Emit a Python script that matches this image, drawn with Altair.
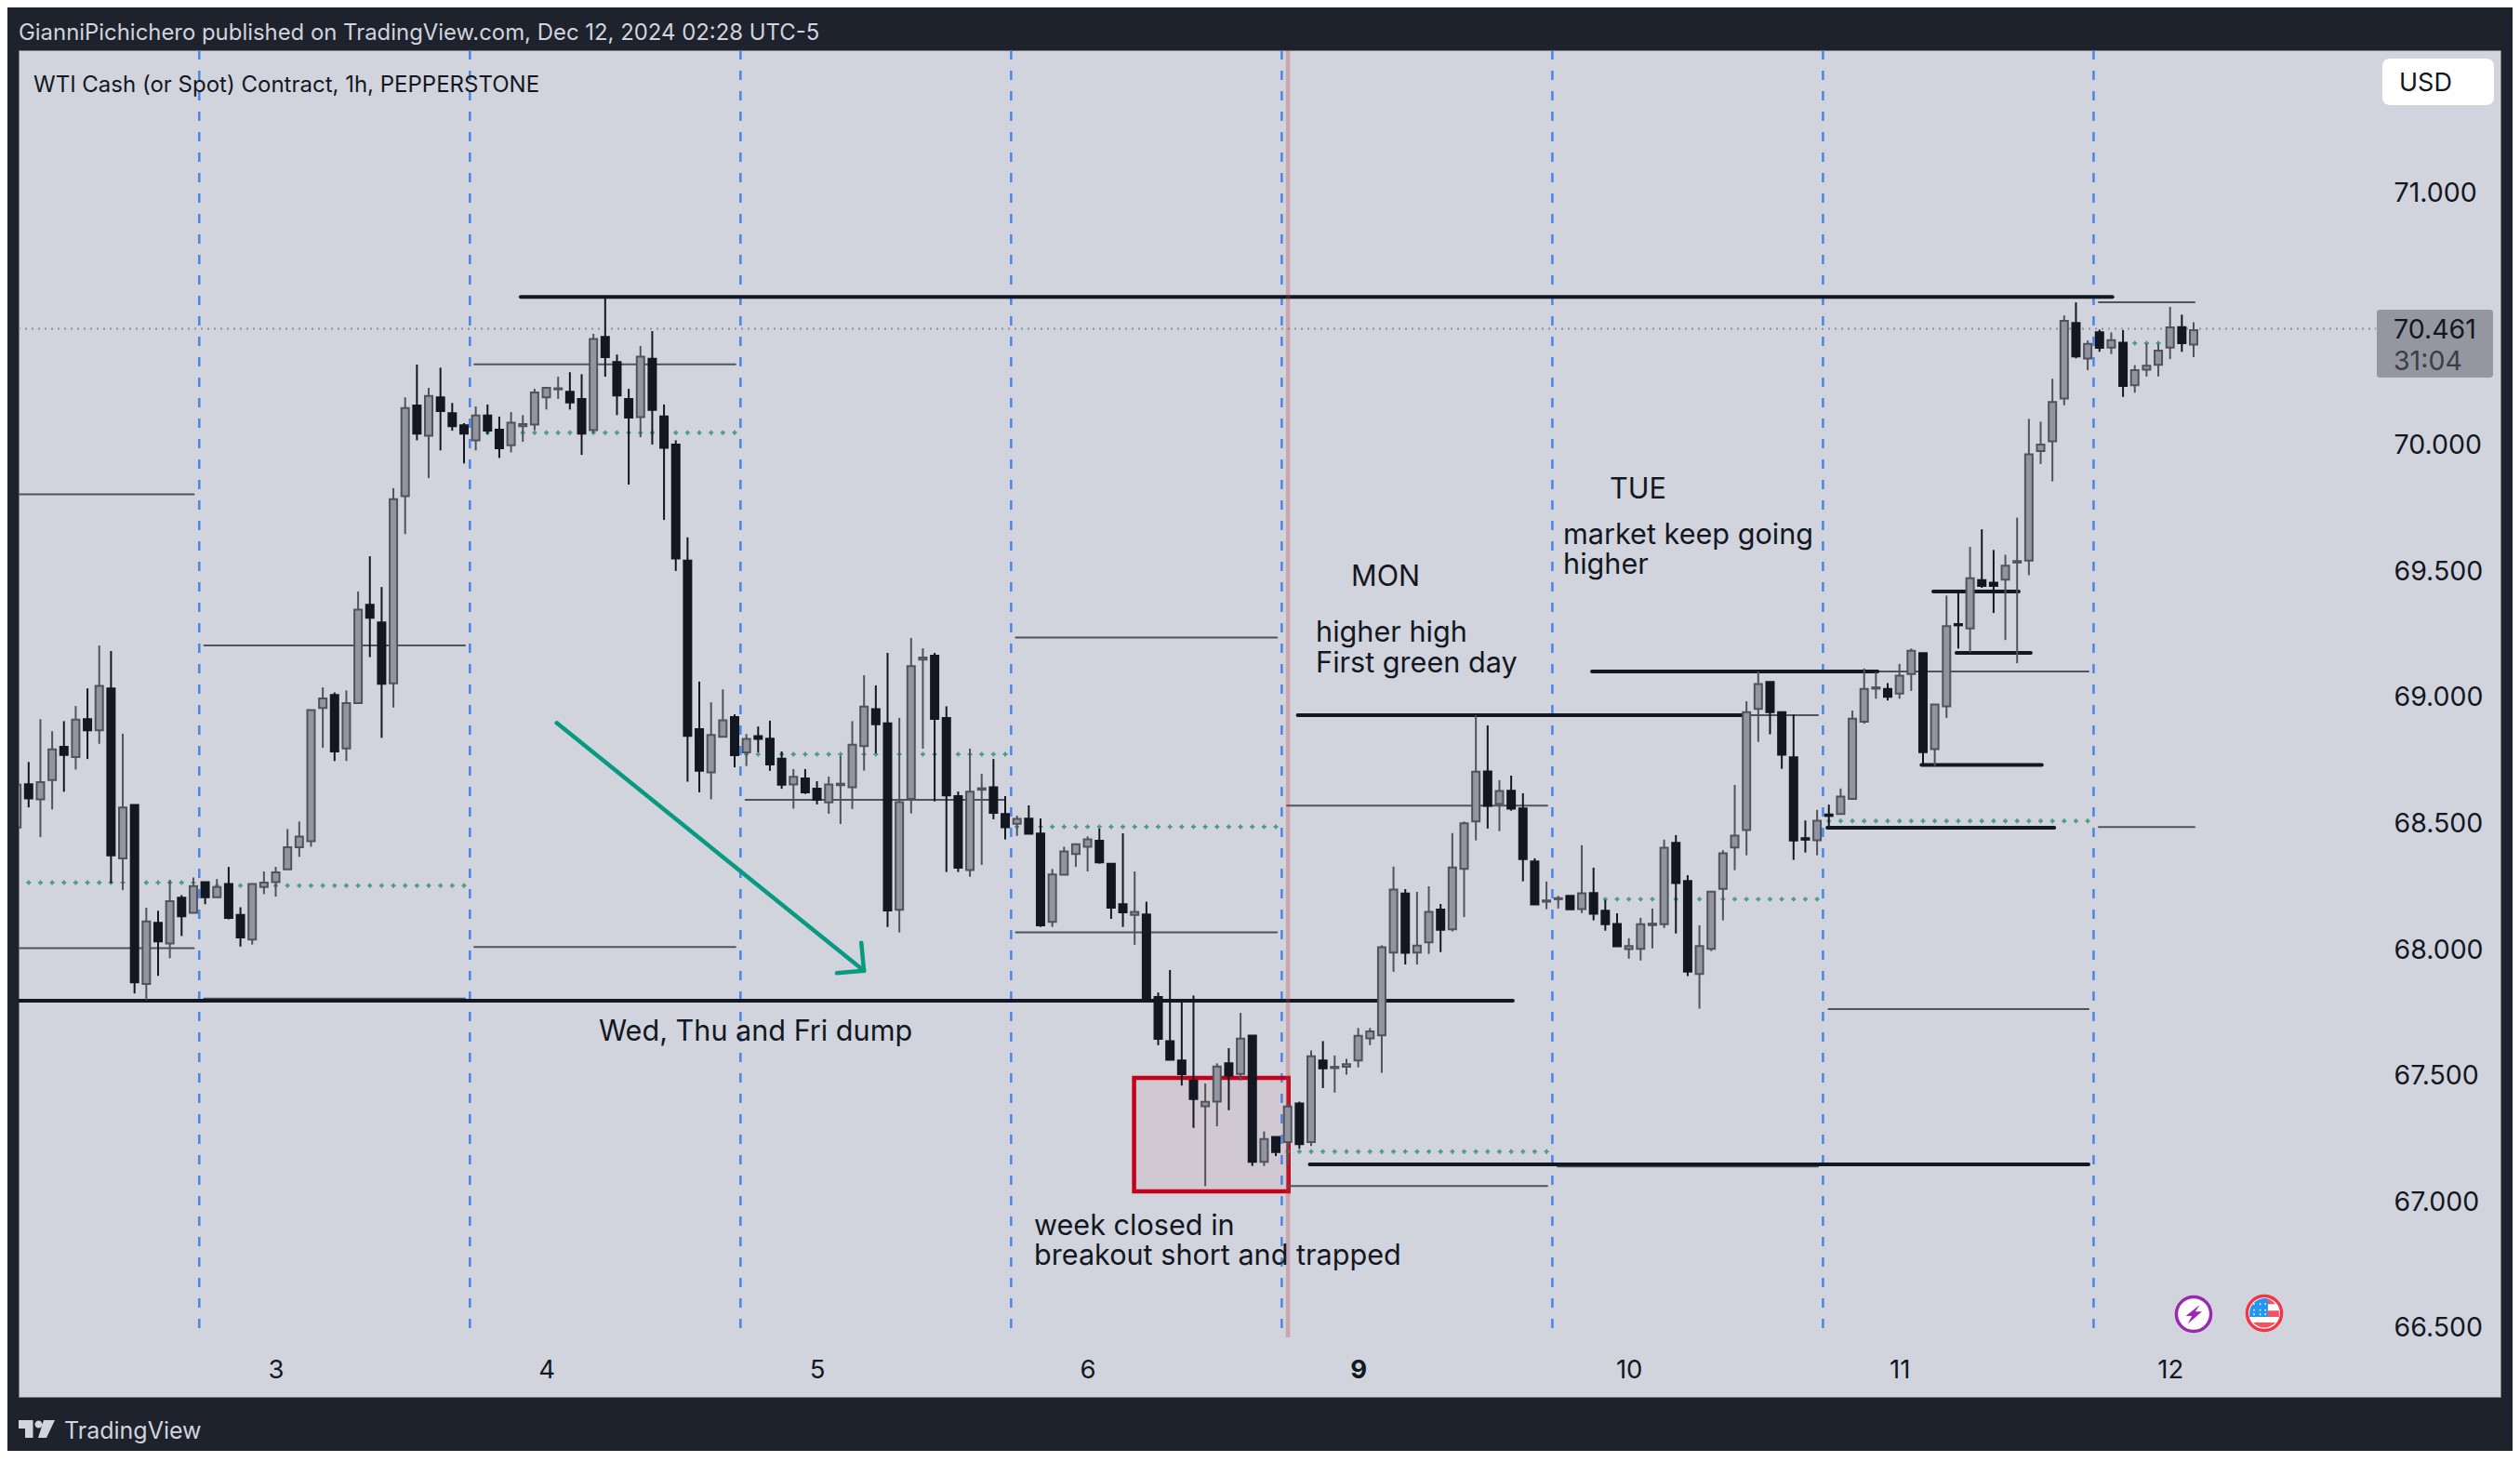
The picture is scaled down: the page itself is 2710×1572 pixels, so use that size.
import altair as alt
import pandas as pd

# candle values, one hour per entry
directions = list(
    "UDUUDUDUDU" "DUDUDUDUDD" "UUUUUUUDUU" "DDUUDUDDDU" "DDUUUUUDDU"
    "DDDUDDDDDU" "UDUDDDUDDU" "UUUDDUUUDD" "DUUDDUDDUU" "UUDDDUDDDD"
    "DUUDUDUDUD" "UDUUUUUUDU" "UDUUUDUDDD" "UUDUDDDUUU" "UDDUUUUUUD"
    "DDDUDUUUUD" "UUDUUDUDDU" "UUUUUDUDUD" "UUUUDU"
)
body_top = [
    68.654, 68.656, 68.664, 68.794, 68.804, 68.912, 68.914, 69.046, 69.036, 68.564,
    68.574, 68.112, 68.106, 68.192, 68.206, 68.252, 68.268, 68.248, 68.26, 68.138,
    68.26, 68.266, 68.306, 68.406, 68.448, 68.95, 68.996, 69.01, 68.978, 69.348,
    69.368, 69.298, 69.786, 70.148, 70.158, 70.196, 70.19, 70.128, 70.08, 70.118,
    70.118, 70.062, 70.09, 70.084, 70.21, 70.228, 70.226, 70.212, 70.184, 70.422,
    70.43, 70.33, 70.184, 70.352, 70.343, 70.115, 70.003, 69.543, 68.874, 68.851,
    68.909, 68.922, 68.836, 68.847, 68.837, 68.757, 68.685, 68.679, 68.638, 68.655,
    68.658, 68.813, 68.964, 68.954, 68.897, 68.585, 69.124, 69.158, 69.166, 68.919,
    68.609, 68.626, 68.64, 68.644, 68.538, 68.518, 68.519, 68.46, 68.298, 68.389,
    68.418, 68.437, 68.432, 68.34, 68.18, 68.15, 68.139, 67.812, 67.637, 67.56,
    67.48, 67.396, 67.536, 67.549, 67.647, 67.659, 67.249, 67.257, 67.378, 67.39,
    67.577, 67.56, 67.535, 67.546, 67.658, 67.676, 68.009, 68.238, 68.222, 68.016,
    68.15, 68.159, 68.326, 68.501, 68.706, 68.707, 68.629, 68.63, 68.56, 68.35,
    68.195, 68.204, 68.213, 68.223, 68.224, 68.154, 68.102, 68.014, 68.101, 68.103,
    68.404, 68.423, 68.272, 68.014, 68.23, 68.382, 68.452, 68.942, 69.053, 69.062,
    68.942, 68.763, 68.442, 68.511, 68.536, 68.607, 68.916, 69.034, 69.04, 69.034,
    69.086, 69.185, 69.176, 68.972, 69.283, 69.291, 69.473, 69.465, 69.455, 69.523,
    69.541, 69.964, 70.003, 70.172, 70.494, 70.485, 70.402, 70.448, 70.417, 70.407,
    70.298, 70.316, 70.376, 70.468, 70.469, 70.457,
]
body_bottom = [
    68.484, 68.60, 68.596, 68.672, 68.772, 68.764, 68.87, 68.87, 68.374, 68.362,
    67.87, 67.864, 68.032, 68.024, 68.132, 68.146, 68.208, 68.208, 68.126, 68.048,
    68.04, 68.248, 68.268, 68.318, 68.406, 68.43, 68.958, 68.786, 68.798, 68.978,
    69.316, 69.054, 69.056, 69.798, 70.046, 70.038, 70.136, 70.076, 70.046, 70.02,
    70.058, 69.988, 70.0, 70.076, 70.082, 70.19, 70.222, 70.17, 70.046, 70.06,
    70.35, 70.198, 70.11, 70.112, 70.14, 69.99, 69.551, 68.848, 68.709, 68.703,
    68.844, 68.771, 68.782, 68.836, 68.734, 68.654, 68.655, 68.624, 68.594, 68.584,
    68.652, 68.644, 68.807, 68.894, 68.155, 68.158, 68.598, 69.15, 68.915, 68.612,
    68.325, 68.316, 68.634, 68.542, 68.485, 68.499, 68.459, 68.096, 68.11, 68.297,
    68.379, 68.408, 68.346, 68.166, 68.148, 68.138, 67.797, 67.646, 67.563, 67.506,
    67.407, 67.379, 67.397, 67.5, 67.507, 67.158, 67.158, 67.197, 67.237, 67.228,
    67.237, 67.529, 67.53, 67.535, 67.56, 67.648, 67.66, 67.988, 67.987, 67.988,
    68.029, 68.079, 68.08, 68.32, 68.508, 68.57, 68.577, 68.559, 68.359, 68.179,
    68.19, 68.2, 68.16, 68.161, 68.142, 68.101, 68.013, 68.002, 68.003, 68.097,
    68.101, 68.264, 67.913, 67.903, 68.003, 68.241, 68.405, 68.474, 68.955, 68.942,
    68.773, 68.433, 68.436, 68.434, 68.53, 68.538, 68.598, 68.904, 69.035, 69.003,
    69.015, 69.093, 68.783, 68.795, 68.965, 69.286, 69.274, 69.442, 69.442, 69.467,
    69.535, 69.543, 69.977, 70.016, 70.186, 70.353, 70.344, 70.387, 70.388, 70.235,
    70.238, 70.3, 70.319, 70.388, 70.405, 70.4,
]
highs = [
    68.70, 68.744, 68.914, 68.866, 68.906, 68.966, 69.036, 69.206, 69.184, 68.856,
    68.574, 68.166, 68.154, 68.276, 68.216, 68.286, 68.268, 68.28, 68.328, 68.168,
    68.26, 68.31, 68.328, 68.478, 68.508, 68.95, 69.04, 69.02, 69.028, 69.42,
    69.56, 69.438, 69.83, 70.19, 70.32, 70.228, 70.308, 70.168, 70.088, 70.154,
    70.162, 70.114, 70.132, 70.12, 70.224, 70.228, 70.272, 70.29, 70.282, 70.442,
    70.584, 70.36, 70.224, 70.394, 70.453, 70.162, 70.02, 69.635, 69.063, 68.981,
    69.032, 68.933, 68.855, 68.885, 68.908, 68.786, 68.716, 68.716, 68.668, 68.686,
    68.769, 68.906, 69.088, 69.048, 69.177, 68.919, 69.236, 69.195, 69.177, 68.965,
    68.627, 68.797, 68.697, 68.756, 68.609, 68.531, 68.572, 68.52, 68.32, 68.408,
    68.418, 68.449, 68.48, 68.34, 68.461, 68.31, 68.19, 67.83, 67.919, 67.791,
    67.818, 67.469, 67.549, 67.609, 67.749, 67.659, 67.279, 67.257, 67.39, 67.397,
    67.6, 67.637, 67.58, 67.567, 67.689, 67.689, 68.017, 68.329, 68.24, 68.229,
    68.251, 68.181, 68.462, 68.508, 68.929, 68.889, 68.672, 68.69, 68.62, 68.362,
    68.27, 68.213, 68.213, 68.414, 68.325, 68.197, 68.144, 68.045, 68.126, 68.163,
    68.436, 68.454, 68.295, 68.096, 68.23, 68.394, 68.653, 68.985, 69.103, 69.062,
    68.942, 68.932, 68.512, 68.554, 68.575, 68.639, 68.948, 69.115, 69.1, 69.057,
    69.133, 69.194, 69.176, 68.972, 69.404, 69.413, 69.597, 69.667, 69.585, 69.566,
    69.713, 70.105, 70.094, 70.264, 70.515, 70.567, 70.416, 70.459, 70.448, 70.457,
    70.318, 70.403, 70.403, 70.549, 70.518, 70.488,
]
lows = [
    68.44, 68.564, 68.446, 68.556, 68.626, 68.714, 68.756, 68.816, 68.264, 68.236,
    67.826, 67.80, 67.896, 67.966, 68.054, 68.146, 68.18, 68.208, 68.12, 68.012,
    68.02, 68.22, 68.21, 68.318, 68.368, 68.408, 68.80, 68.748, 68.748, 68.978,
    69.16, 68.84, 68.96, 69.648, 70.02, 69.87, 69.98, 70.058, 69.928, 69.98,
    70.044, 69.95, 69.972, 70.014, 70.06, 70.142, 70.184, 70.142, 69.962, 70.048,
    70.272, 70.12, 69.844, 70.032, 70.003, 69.704, 69.502, 68.666, 68.624, 68.596,
    68.844, 68.723, 68.728, 68.782, 68.709, 68.638, 68.559, 68.617, 68.576, 68.539,
    68.498, 68.558, 68.71, 68.779, 68.09, 68.068, 68.54, 68.797, 68.588, 68.308,
    68.308, 68.289, 68.336, 68.517, 68.437, 68.451, 68.459, 68.09, 68.09, 68.297,
    68.328, 68.31, 68.341, 68.122, 68.09, 68.019, 67.797, 67.621, 67.561, 67.461,
    67.293, 67.062, 67.299, 67.363, 67.481, 67.142, 67.142, 67.181, 67.142, 67.21,
    67.221, 67.451, 67.433, 67.504, 67.533, 67.621, 67.511, 67.912, 67.941, 67.941,
    67.983, 67.99, 68.072, 68.129, 68.433, 68.48, 68.47, 68.551, 68.271, 68.179,
    68.16, 68.163, 68.16, 68.145, 68.116, 68.075, 68.013, 67.964, 67.957, 68.005,
    68.086, 68.064, 67.895, 67.766, 67.994, 68.116, 68.315, 68.374, 68.824, 68.854,
    68.717, 68.356, 68.385, 68.374, 68.486, 68.538, 68.598, 68.896, 68.995, 68.988,
    68.995, 69.026, 68.732, 68.728, 68.919, 69.194, 69.179, 69.435, 69.335, 69.228,
    69.136, 69.485, 69.926, 69.857, 70.159, 70.345, 70.298, 70.371, 70.362, 70.192,
    70.209, 70.273, 70.273, 70.342, 70.371, 70.35,
]

# axis
price_ticks = [66.5, 67.0, 67.5, 68.0, 68.5, 69.0, 69.5, 70.0, 71.0]
day_ticks = [22, 45, 68, 91, 114, 137, 160, 183]
day_names = ["3", "4", "5", "6", "9", "10", "11", "12"]
day_breaks = [15.5, 38.5, 61.5, 84.5, 107.5, 130.5, 153.5, 176.5]

# drawn levels: start candle, end candle, price
thick_levels = [
    (42.82, 178.1, 70.589), (0.146, 127.14, 67.797), (108.86, 146.67, 68.93),
    (133.87, 158.14, 69.103), (162.87, 170.14, 69.42), (164.84, 171.16, 69.177),
    (161.87, 172.1, 68.732), (153.87, 173.16, 68.483), (109.88, 176.07, 67.148),
]
thin_levels = [
    (0.146, 15.04, 69.806), (0.146, 15.04, 68.006), (15.92, 38.08, 69.206),
    (15.92, 38.08, 67.806), (38.88, 61.07, 70.321), (38.88, 61.07, 68.01),
    (61.93, 84.0, 68.594), (84.9, 107.09, 69.238), (84.9, 107.09, 68.068),
    (107.95, 130.07, 68.571), (107.95, 130.07, 67.062), (130.95, 153.07, 68.93),
    (130.95, 153.07, 67.14), (153.97, 176.07, 69.103), (153.97, 176.07, 67.764),
    (176.94, 185.08, 70.567), (176.94, 185.08, 68.486),
]
# green dotted pivots: first candle, last candle, price
pivots = [
    (1, 15, 68.266), (16, 38, 68.254), (40, 61, 70.05), (62, 84, 68.775),
    (85, 107, 68.487), (108, 130, 67.199), (131, 153, 68.2), (154, 176, 68.51),
    (178, 184, 70.405),
]
arrow_lines = [
    (45.88, 68.899, 71.99, 67.916), (71.77, 68.027, 71.99, 67.916),
    (69.69, 67.907, 71.99, 67.916),
]
notes = [
    ("Wed, Thu and Fri dump", 49.46, 67.677), ("MON", 113.4, 69.481),
    ("higher high", 110.4, 69.258), ("First green day", 110.4, 69.136),
    ("TUE", 135.37, 69.826), ("market keep going", 131.42, 69.645),
    ("higher", 131.42, 69.527), ("week closed in", 86.45, 66.905),
    ("breakout short and trapped", 86.45, 66.787),
]
last_price = 70.462

FONT = "Inter"
INK = "#131722"
GREY_EDGE = "#50535e"
PANEL = "#d1d4dc"
FRAME = "#1e222d"

x_scale = alt.Scale(domain=[0.146, 211.08], nice=False, zero=False, padding=0)
y_scale = alt.Scale(domain=[66.226, 71.567], nice=False, zero=False, padding=0)


def xq(field):
    return alt.X(field, type="quantitative", scale=x_scale)


def yq(field):
    return alt.Y(field, type="quantitative", scale=y_scale)


def level_layer(rows, width, color):
    df = pd.DataFrame(rows, columns=["a", "b", "p"])
    return alt.Chart(df).mark_rule(strokeWidth=width, color=color, strokeCap="round", clip=True).encode(
        x=xq("a"), x2="b", y=yq("p")
    )


def chrome_text(text, px, py, size, color, align="left"):
    # page position of the TradingView furniture, turned into plot pixels
    return alt.Chart(pd.DataFrame({"t": [text]})).mark_text(
        font=FONT, fontSize=size, color=color, align=align, baseline="middle", dy=2
    ).encode(text="t:N", x=alt.value(px - 20), y=alt.value(py - 54))


def icon(path, px, py, size, fill, stroke=None, stroke_width=0):
    opts = dict(shape=path, size=size, filled=True, fill=fill, opacity=1, strokeWidth=stroke_width)
    if stroke:
        opts["stroke"] = stroke
    return alt.Chart(pd.DataFrame({"a": [0]})).mark_point(**opts).encode(
        x=alt.value(px - 20), y=alt.value(py - 54)
    )


candles = pd.DataFrame({
    "i": range(len(highs)), "top": body_top, "bottom": body_bottom,
    "high": highs, "low": lows, "dir": directions,
})
candle_fill = alt.Scale(domain=["U", "D"], range=["#92959f", INK])
candle_line = alt.Scale(domain=["U", "D"], range=[GREY_EDGE, INK])

# the axis labels sit inside the panel, hence the negative offsets
day_expr = "{" + ",".join(f"{t}:'{n}'" for t, n in zip(day_ticks, day_names)) + "}[datum.value]"
wicks = alt.Chart(candles).mark_rule(strokeWidth=2, clip=True).encode(
    x=alt.X("i:Q", scale=x_scale, axis=alt.Axis(
        orient="bottom", values=day_ticks, labelExpr=day_expr, title=None, grid=False,
        domain=False, ticks=False, offset=-29, labelPadding=0, labelBaseline="middle",
        labelFont=FONT, labelFontSize=27.5, labelColor=INK, labelOverlap=False, labelFlush=False,
        labelFontWeight={"condition": {"test": "datum.value == 114", "value": "bold"}, "value": "normal"},
    )),
    y=alt.Y("high:Q", scale=y_scale, axis=alt.Axis(
        orient="right", values=price_ticks, format=".3f", title=None, grid=False,
        domain=False, ticks=False, offset=-115, labelPadding=0, labelAlign="left",
        labelFont=FONT, labelFontSize=28.5, labelColor=INK, labelOverlap=False, labelFlush=False,
    )),
    y2="low:Q",
    stroke=alt.Stroke("dir:N", scale=candle_line, legend=None),
)
bodies = alt.Chart(candles).mark_bar(size=8, strokeWidth=2, clip=True).encode(
    x=xq("i"), y=yq("top"), y2="bottom:Q",
    fill=alt.Fill("dir:N", scale=candle_fill, legend=None),
    stroke=alt.Stroke("dir:N", scale=candle_line, legend=None),
)

day_lines = alt.Chart(pd.DataFrame({"d": day_breaks})).mark_rule(
    color="#4a86e8", strokeWidth=2.5, strokeDash=[10, 12]
).encode(x=xq("d"), y=alt.value(0), y2=alt.value(1374))

week_line = alt.Chart(pd.DataFrame({"w": [108.03], "a": [71.567], "b": [66.462]})).mark_rule(
    color="#b33f43", opacity=0.3, strokeWidth=4.5
).encode(x=xq("w"), y=yq("a"), y2="b:Q")

box = alt.Chart(pd.DataFrame({"a": [94.95], "b": [108.08], "t": [67.491], "u": [67.041]})).mark_rect(
    fill="#c8000f", fillOpacity=0.05, stroke="#c4001a", strokeWidth=4.5
).encode(x=xq("a"), x2="b:Q", y=yq("t"), y2="u:Q")

pivot_df = pd.DataFrame(
    [{"i": i, "p": p} for a, b, p in pivots for i in range(a, b + 1)]
)
pivot_dots = alt.Chart(pivot_df).mark_point(
    shape="cross", filled=True, size=24, color="#4a9c86", opacity=1
).encode(x=xq("i"), y=yq("p"))

last_line = alt.Chart(pd.DataFrame({"a": [0.146], "b": [200.5], "p": [last_price]})).mark_rule(
    color="#8f9199", strokeWidth=2, strokeDash=[2, 5]
).encode(x=xq("a"), x2="b:Q", y=yq("p"))

arrow = alt.Chart(pd.DataFrame(arrow_lines, columns=["a", "p", "b", "q"])).mark_rule(
    color="#089981", strokeWidth=4.5, strokeCap="round"
).encode(x=xq("a"), x2="b:Q", y=yq("p"), y2="q:Q")

note_text = alt.Chart(pd.DataFrame(notes, columns=["t", "i", "p"])).mark_text(
    font=FONT, fontSize=30.6, color=INK, align="left", baseline="middle", dy=1
).encode(text="t:N", x=xq("i"), y=yq("p"))

# price tag and currency button
tag = alt.Chart(pd.DataFrame({"a": [0]})).mark_rect(color="#94979f", cornerRadius=3).encode(
    x=alt.value(2556 - 20), x2=alt.value(2681 - 20), y=alt.value(333 - 54), y2=alt.value(406 - 54)
)
usd_box = alt.Chart(pd.DataFrame({"a": [0]})).mark_rect(color="#ffffff", cornerRadius=8).encode(
    x=alt.value(2562 - 20), x2=alt.value(2682 - 20), y=alt.value(63 - 54), y2=alt.value(113 - 54)
)

bolt = "M0.30,-0.45 L-0.38,0.09 L-0.08,0.09 L-0.29,0.48 L0.41,-0.12 L0.08,-0.12 Z"
logo = (
    "M-0.975,-0.475 L-0.2,-0.475 L-0.2,0.475 L-0.625,0.475 L-0.625,-0.025 L-0.975,-0.025 Z "
    "M-0.1,-0.25 A0.2,0.2 0 1 0 0.3,-0.25 A0.2,0.2 0 1 0 -0.1,-0.25 Z "
    "M0.375,-0.475 L0.975,-0.475 L0.525,0.475 L0.075,0.475 Z"
)
flag_blue = "M-0.72,0.18 L-0.72,0 A0.73,0.73 0 0 1 0.18,-0.71 L0.18,0.18 Z"
flag_red = (
    "M0.18,-0.71 A0.73,0.73 0 0 1 0.55,-0.44 L0.18,-0.44 Z "
    "M0.18,-0.12 L0.72,-0.12 L0.72,0.18 L0.18,0.18 Z "
    "M-0.55,0.45 L0.55,0.45 A0.73,0.73 0 0 1 -0.55,0.45 Z"
)
flag_stars = " ".join(
    f"M{x - 0.05:.2f},{y:.2f} L{x:.2f},{y - 0.05:.2f} L{x + 0.05:.2f},{y:.2f} L{x:.2f},{y + 0.05:.2f} Z"
    for x in (-0.5, -0.2, 0.05) for y in (-0.45, -0.15, 0.05)
)

chart = alt.layer(
    day_lines,
    box,
    last_line,
    pivot_dots,
    level_layer(thin_levels, 2, GREY_EDGE),
    level_layer(thick_levels, 4, INK),
    week_line,
    wicks,
    bodies,
    arrow,
    note_text,
    tag,
    usd_box,
    chrome_text("USD", 2580, 88, 27, INK),
    chrome_text("70.461", 2574, 353, 28.5, INK),
    chrome_text("31:04", 2574, 387, 28.5, "#3b3e46"),
    chrome_text("WTI Cash (or Spot) Contract, 1h, PEPPERSTONE", 36, 90, 24, INK),
    chrome_text("GianniPichichero published on TradingView.com, Dec 12, 2024 02:28 UTC-5", 20, 34, 23.9, PANEL),
    chrome_text("TradingView", 69, 1537, 25, PANEL),
    icon(logo, 39.5, 1536.5, 1600, PANEL),
    icon("circle", 2359, 1413, 1380, "#ffffff", "#9c27b0", 3.5),
    icon(bolt, 2359, 1413, 1936, "#9c27b0"),
    icon("circle", 2435, 1412, 1380, "#ffffff", "#f23645", 3.5),
    icon(flag_blue, 2435, 1412, 1936, "#2196f3"),
    icon(flag_red, 2435, 1412, 1936, "#f7525f"),
    icon(flag_stars, 2435, 1412, 1936, "#ffffff"),
).properties(
    width=2669,
    height=1448,
    padding={"left": 12, "top": 46, "right": 13, "bottom": 58},
    autosize=alt.AutoSizeParams(type="none"),
    background=FRAME,
).configure_view(fill=PANEL, stroke="#787b86", strokeWidth=1)

chart.save("out.html", embed_options={"renderer": "svg", "actions": False})
